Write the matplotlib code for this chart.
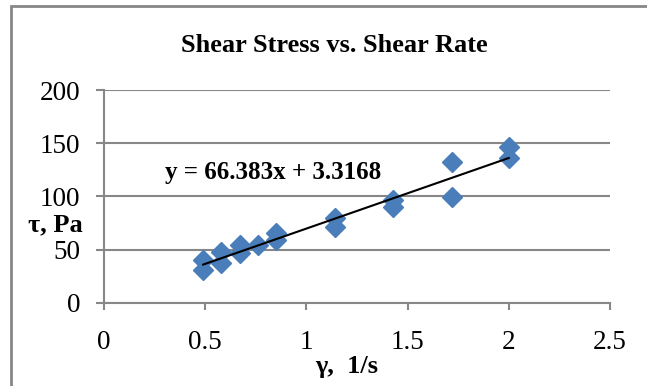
import numpy as np
import matplotlib
matplotlib.use("Agg")
import matplotlib.pyplot as plt
from matplotlib.patches import Rectangle

# shear rate (1/s) and shear stress (Pa)
shear_rate = [0.49, 0.49, 0.58, 0.58, 0.67, 0.67, 0.76, 0.85, 0.85,
              1.14, 1.14, 1.43, 1.43, 1.72, 1.72, 2.0, 2.0]
shear_stress = [30.7, 40.0, 37.6, 48.0, 46.4, 54.0, 54.0, 59.0, 65.8,
                71.4, 79.3, 90.2, 96.5, 99.6, 132.5, 136.0, 146.5]

# linear trendline shown on the chart
slope, intercept = 66.383, 3.3168

x_ticks = [0, 0.5, 1, 1.5, 2, 2.5]
x_tick_labels = ["0", "0.5", "1", "1.5", "2", "2.5"]
y_ticks = [0, 50, 100, 150, 200]

GRID = "#878787"
BLUE = "#4a7ebb"

plt.rcParams["font.family"] = ["Liberation Serif", "DejaVu Serif"]

fig = plt.figure(figsize=(6.47, 3.86), dpi=100)
ax = fig.add_axes([0.1607, 0.2158, 0.7821, 0.551])

# outer chart border (only top/left edges visible in the crop)
fig.patches.append(Rectangle((11 / 647, -0.1), 1.2, 1 - 6 / 386 + 0.1,
                             transform=fig.transFigure, fill=False,
                             edgecolor=GRID, linewidth=2.0))

ax.set_xlim(0, 2.5)
ax.set_ylim(0, 200)
ax.set_yticks(y_ticks)
ax.set_xticks(x_ticks)
ax.set_xticklabels(x_tick_labels)
ax.yaxis.grid(True, color=GRID, linewidth=1.5)
ax.set_axisbelow(True)

for side in ["top", "right"]:
    ax.spines[side].set_visible(False)
for side in ["left", "bottom"]:
    ax.spines[side].set_color(GRID)
    ax.spines[side].set_linewidth(1.5)

ax.tick_params(axis="both", colors=GRID, width=1.5, labelsize=19.5,
               labelcolor="black")
ax.tick_params(axis="x", length=5, pad=15)
ax.tick_params(axis="y", length=6, pad=11)

ax.plot(shear_rate, shear_stress, linestyle="none", marker="D",
        markersize=10, color=BLUE, zorder=3)

xs = np.array([min(shear_rate), max(shear_rate)])
ax.plot(xs, slope * xs + intercept, color="black", linewidth=1.5, zorder=4)

ax.text(0.30, 122, f"y = {slope}x + {intercept}", fontsize=18,
        fontweight="bold", ha="left", va="center")

fig.text(334 / 647, 1 - 45 / 386, "Shear Stress vs. Shear Rate",
         fontsize=19, fontweight="bold", ha="center", va="center")
fig.text(55 / 647, 1 - 225 / 386, "τ, Pa", fontsize=19, fontweight="bold",
         ha="center", va="center")
fig.text(347 / 647, 1 - 366 / 386, "γ,  1/s", fontsize=19, fontweight="bold",
         ha="center", va="center")

fig.savefig("out.png", dpi=100)
